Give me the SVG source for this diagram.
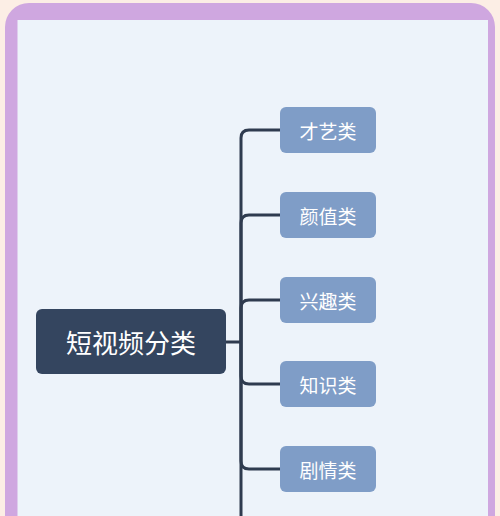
<svg xmlns="http://www.w3.org/2000/svg" width="500" height="516" viewBox="0 0 500 516">
<style>
.child rect{fill:#7F9DC7;}
.child text{fill:#FFFFFF;font-family:"Noto Sans CJK SC","Noto Sans",sans-serif;font-size:19px;text-anchor:middle;dominant-baseline:central;}
.conn path{fill:none;stroke:#2F3B4F;stroke-width:3;}
</style>
<rect x="0" y="0" width="500" height="516" fill="#FCEEE5"/>
<rect x="5" y="3" width="490" height="600" rx="24" fill="#CFA7E0"/>
<rect x="17.5" y="20" width="470.5" height="600" fill="#EDF3FA"/>
<g id="connectors" class="conn">
<path d="M226,342 H241"/>
<path d="M241,342 V138 Q241,130 249,130 H281"/>
<path d="M241,342 V223 Q241,215 249,215 H281"/>
<path d="M241,342 V308 Q241,300 249,300 H281"/>
<path d="M241,342 V376 Q241,384 249,384 H281"/>
<path d="M241,342 V461 Q241,469 249,469 H281"/>
<path d="M241,342 V520"/>
</g>
<g id="root">
<rect x="36" y="309" width="190" height="65" rx="6" fill="#34455F"/>
<text x="131" y="341.5" fill="#FFFFFF" font-family="Noto Sans CJK SC, Noto Sans, sans-serif" font-size="26" text-anchor="middle" dominant-baseline="central">短视频分类</text>
</g>
<g id="n1" class="child"><rect x="280" y="107" width="96" height="46" rx="6"/><text x="328" y="130">才艺类</text></g>
<g id="n2" class="child"><rect x="280" y="192" width="96" height="46" rx="6"/><text x="328" y="215">颜值类</text></g>
<g id="n3" class="child"><rect x="280" y="277" width="96" height="46" rx="6"/><text x="328" y="300">兴趣类</text></g>
<g id="n4" class="child"><rect x="280" y="361" width="96" height="46" rx="6"/><text x="328" y="384">知识类</text></g>
<g id="n5" class="child"><rect x="280" y="446" width="96" height="46" rx="6"/><text x="328" y="469">剧情类</text></g>
</svg>
